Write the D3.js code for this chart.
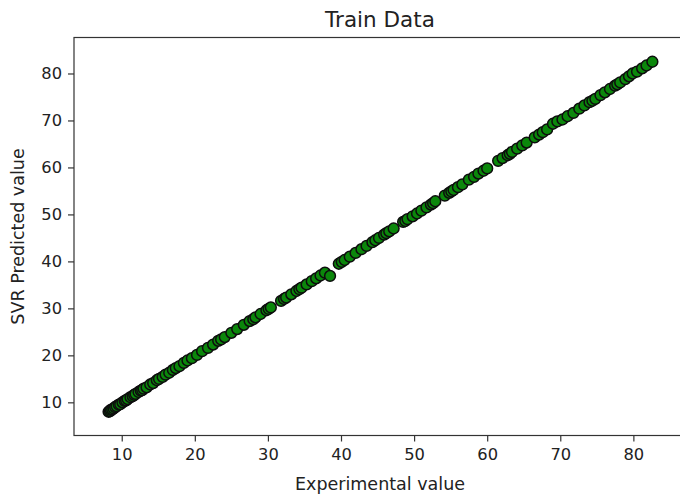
<!DOCTYPE html>
<html>
<head>
<meta charset="utf-8">
<script src="https://cdn.jsdelivr.net/npm/d3@7"></script>
<style>
  html, body { margin: 0; padding: 0; background: #fff; }
  svg { display: block; }
  text { font-family: "DejaVu Sans", sans-serif; fill: #222; }
</style>
</head>
<body>
<svg id="chart" width="680" height="498"></svg>
<script>
// Training set: experimental vs. SVR-predicted values
const experimental = [
  8.2, 8.4, 8.5, 8.7, 8.9, 9.1, 9.3, 9.6, 9.8, 10.1, 10.4, 10.6, 10.8, 11.2, 11.5,
  11.7, 11.9, 12.3, 12.6, 12.8, 13.0, 13.4, 13.9, 14.3, 14.8, 15.1, 15.6,
  16.0, 16.5, 17.0, 17.4, 17.9, 18.5, 19.0, 19.6, 20.3, 21.0,
  21.8, 22.5, 23.2, 23.6, 24.1, 25.0, 25.8, 26.7, 27.5, 28.0, 28.3, 29.0,
  29.8, 30.1, 30.4, 31.8, 32.2, 32.5, 33.2, 33.9, 34.3, 34.6, 35.3, 36.0, 36.6,
  37.2, 37.8, 38.5, 39.7, 40.1, 40.5, 41.2, 42.0, 42.8, 43.5, 44.3, 44.7,
  45.2, 45.9, 46.2, 46.6, 47.2, 48.5, 48.8, 49.1, 49.8, 50.4, 51.0, 51.7,
  52.3, 52.6, 52.9, 54.2, 54.8, 55.1, 55.4, 56.0, 56.6, 57.5, 58.2, 58.8,
  59.5, 60.0, 61.5, 62.1, 62.8, 63.1, 63.4, 64.1, 64.8, 65.4, 66.5,
  67.1, 67.6, 68.2, 69.0, 69.6, 70.3, 71.0, 71.8, 72.6, 73.3,
  74.0, 74.4, 74.8, 75.5, 76.1, 76.8, 77.5, 77.8, 78.2, 78.9, 79.4, 79.9,
  80.5, 81.2, 81.8, 82.6
];
const predicted = [
  8.0, 8.1, 8.4, 8.5, 8.7, 9.0, 9.2, 9.5, 9.6, 10.0, 10.3, 10.4, 10.7, 11.1, 11.3,
  11.6, 11.8, 12.2, 12.5, 12.6, 12.9, 13.2, 13.8, 14.1, 14.7, 15.0, 15.4,
  15.9, 16.3, 16.9, 17.3, 17.7, 18.4, 18.9, 19.4, 20.1, 20.9,
  21.6, 22.3, 23.1, 23.4, 23.9, 24.8, 25.6, 26.5, 27.3, 27.7, 28.1, 28.8,
  29.6, 29.9, 30.2, 31.6, 32.0, 32.3, 33.0, 33.7, 34.1, 34.4, 35.1, 35.8, 36.4,
  37.0, 37.6, 36.9, 39.5, 39.9, 40.3, 41.0, 41.8, 42.6, 43.3, 44.1, 44.5,
  45.0, 45.7, 46.0, 46.4, 47.0, 48.4, 48.6, 49.0, 49.6, 50.2, 50.8, 51.5,
  52.1, 52.4, 52.8, 54.0, 54.6, 54.9, 55.2, 55.8, 56.4, 57.4, 58.0, 58.7,
  59.3, 59.8, 61.4, 62.0, 62.6, 62.9, 63.3, 64.0, 64.7, 65.3, 66.4,
  67.0, 67.5, 68.1, 69.3, 69.8, 70.2, 70.9, 71.6, 72.5, 73.2,
  73.9, 74.2, 74.6, 75.4, 76.0, 76.7, 77.4, 77.7, 78.1, 78.8, 79.4, 80.0,
  80.4, 81.1, 81.7, 82.5
];
const xTicks = [10, 20, 30, 40, 50, 60, 70, 80];
const yTicks = [10, 20, 30, 40, 50, 60, 70, 80];
const titleText = "Train Data";
const xLabel = "Experimental value";
const yLabel = "SVR Predicted value";

const points = experimental.map((e, i) => ({ e, p: predicted[i] }));

const svg = d3.select("#chart");
const margin = { left: 74, top: 37.5, right: 686, bottom: 435.5 };

const x = d3.scaleLinear().domain([3.47, 87.2]).range([margin.left, margin.right]);
const y = d3.scaleLinear().domain([2.94, 87.66]).range([margin.bottom, margin.top]);

// points
svg.append("g")
  .selectAll("circle")
  .data(points)
  .join("circle")
  .attr("cx", d => x(d.e))
  .attr("cy", d => y(d.p))
  .attr("r", 5.4)
  .attr("fill", "#0b870b")
  .attr("stroke", "#0d0d0d")
  .attr("stroke-width", 1.5);

// axes
const xAxis = svg.append("g")
  .attr("transform", `translate(0,${margin.bottom})`)
  .call(d3.axisBottom(x).tickValues(xTicks).tickSize(6).tickPadding(7).tickFormat(d3.format("d")));
const yAxis = svg.append("g")
  .attr("transform", `translate(${margin.left},0)`)
  .call(d3.axisLeft(y).tickValues(yTicks).tickSize(6).tickPadding(6).tickFormat(d3.format("d")));

[xAxis, yAxis].forEach(g => {
  g.select(".domain").remove();
  g.selectAll(".tick line").attr("stroke", "#333").attr("stroke-width", 1.2);
  g.selectAll(".tick text").style("font-size", "16.3px").attr("fill", "#222");
});

// frame
svg.append("rect")
  .attr("x", margin.left).attr("y", margin.top)
  .attr("width", margin.right - margin.left)
  .attr("height", margin.bottom - margin.top)
  .attr("fill", "none").attr("stroke", "#333").attr("stroke-width", 1.2);

// title and axis labels
svg.append("text")
  .attr("x", (margin.left + margin.right) / 2).attr("y", 27)
  .attr("text-anchor", "middle").style("font-size", "21.5px")
  .text(titleText);

svg.append("text")
  .attr("x", (margin.left + margin.right) / 2).attr("y", 490)
  .attr("text-anchor", "middle").style("font-size", "17.5px")
  .text(xLabel);

svg.append("text")
  .attr("transform", `translate(24,${(margin.top + margin.bottom) / 2}) rotate(-90)`)
  .attr("text-anchor", "middle").style("font-size", "17.5px")
  .text(yLabel);
</script>
</body>
</html>
